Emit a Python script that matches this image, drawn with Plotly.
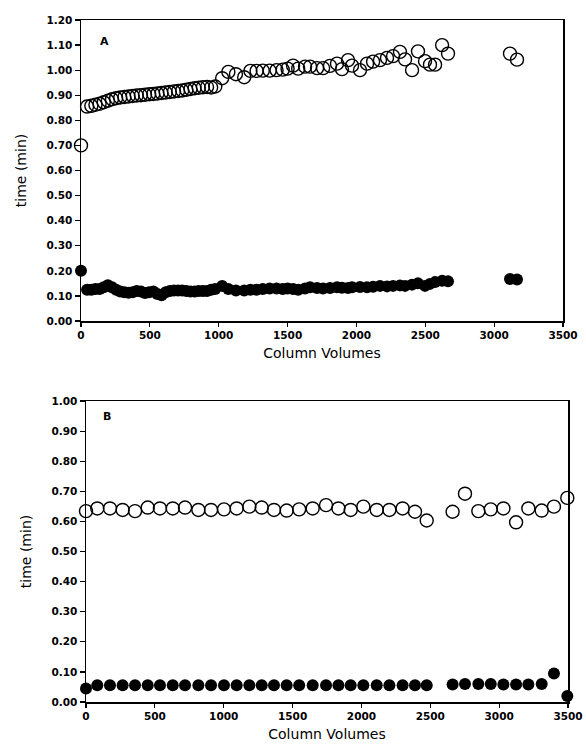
import plotly.graph_objects as go

# ---------------- Panel A data ----------------
cv_a = [0, 44, 75, 105, 135, 165, 195, 225, 255, 285, 315, 345, 375, 405, 435, 465, 495,
        525, 555, 585, 615, 645, 675, 705, 735, 765, 795, 825, 855, 885, 915, 945, 975,
        1025, 1070, 1125, 1185, 1230, 1275, 1320, 1370, 1420, 1465, 1500, 1540, 1577,
        1627, 1663, 1714, 1758, 1808, 1859, 1895, 1939, 1968, 2026, 2077, 2121, 2171,
        2222, 2266, 2316, 2353, 2404, 2447, 2498, 2534, 2571, 2622, 2665, 3115, 3166]
open_a = [0.70, 0.855, 0.858, 0.862, 0.866, 0.872, 0.878, 0.884, 0.888, 0.891, 0.893,
          0.895, 0.897, 0.899, 0.900, 0.902, 0.904, 0.905, 0.907, 0.909, 0.911, 0.913,
          0.915, 0.917, 0.919, 0.922, 0.925, 0.928, 0.930, 0.932, 0.933, 0.931, 0.935,
          0.968, 0.993, 0.984, 0.972, 0.997, 0.997, 0.998, 0.998, 1.000, 1.002, 1.006,
          1.018, 1.006, 1.014, 1.014, 1.008, 1.008, 1.017, 1.026, 1.004, 1.040, 1.018,
          1.000, 1.026, 1.034, 1.040, 1.049, 1.056, 1.073, 1.043, 1.000, 1.075, 1.036,
          1.022, 1.022, 1.100, 1.066, 1.066, 1.042]
filled_a = [0.20, 0.125, 0.125, 0.128, 0.128, 0.135, 0.143, 0.135, 0.125, 0.118, 0.115,
            0.113, 0.115, 0.120, 0.118, 0.112, 0.115, 0.118, 0.108, 0.103, 0.115, 0.120,
            0.122, 0.122, 0.122, 0.120, 0.118, 0.118, 0.120, 0.120, 0.120, 0.125, 0.128,
            0.140, 0.128, 0.122, 0.122, 0.125, 0.125, 0.128, 0.130, 0.130, 0.128, 0.130,
            0.128, 0.125, 0.130, 0.135, 0.132, 0.130, 0.132, 0.135, 0.133, 0.132, 0.135,
            0.136, 0.135, 0.137, 0.140, 0.138, 0.140, 0.142, 0.140, 0.145, 0.150, 0.140,
            0.148, 0.155, 0.160, 0.158, 0.167, 0.165]

# ---------------- Panel B data ----------------
cv_b = [0, 82, 174, 266, 356, 448, 537, 630, 719, 816, 908, 1002, 1094, 1186, 1276, 1365,
        1457, 1548, 1646, 1743, 1833, 1922, 2014, 2111, 2203, 2299, 2389, 2474,
        2662, 2752, 2849, 2939, 3031, 3123, 3212, 3309, 3398, 3495]
open_b = [0.634, 0.643, 0.643, 0.638, 0.634, 0.646, 0.643, 0.643, 0.646, 0.638, 0.638,
          0.640, 0.643, 0.649, 0.646, 0.638, 0.636, 0.640, 0.643, 0.654, 0.643, 0.638,
          0.649, 0.638, 0.638, 0.643, 0.632, 0.603, 0.632, 0.692, 0.634, 0.640, 0.643,
          0.597, 0.643, 0.636, 0.649, 0.678]
filled_b = [0.045, 0.056, 0.056, 0.056, 0.056, 0.056, 0.056, 0.056, 0.056, 0.056, 0.056,
            0.056, 0.056, 0.056, 0.056, 0.056, 0.056, 0.056, 0.056, 0.056, 0.056, 0.056,
            0.056, 0.056, 0.056, 0.056, 0.056, 0.056, 0.058, 0.060, 0.060, 0.060, 0.058,
            0.058, 0.058, 0.060, 0.095, 0.020]

x_ticks = [0, 500, 1000, 1500, 2000, 2500, 3000, 3500]
y_ticks_a = [0.0, 0.1, 0.2, 0.3, 0.4, 0.5, 0.6, 0.7, 0.8, 0.9, 1.0, 1.1, 1.2]
y_ticks_b = [0.0, 0.1, 0.2, 0.3, 0.4, 0.5, 0.6, 0.7, 0.8, 0.9, 1.0]

# the page margin is removed by the post script, so the figure sits at (0, 0)
OFF = 0
W, H = 586, 746
FONT = "DejaVu Sans"

def px_x(p):
    return (p - OFF) / W

def px_y(p):
    return 1 - (p - OFF) / H

dom_ax = [px_x(81), px_x(563)]
dom_ay = [px_y(321), px_y(20)]
dom_bx = [px_x(86), px_x(568)]
dom_by = [px_y(702), px_y(401)]

fig = go.Figure()

def add_pair(cv, op, fl, xa, ya):
    fig.add_trace(go.Scatter(x=cv, y=fl, mode="markers", xaxis=xa, yaxis=ya,
                             marker=dict(symbol="circle", size=12, color="black",
                                         line=dict(width=0)),
                             cliponaxis=False, showlegend=False, hoverinfo="skip"))
    fig.add_trace(go.Scatter(x=cv, y=op, mode="markers", xaxis=xa, yaxis=ya,
                             marker=dict(symbol="circle-open", size=13, color="black",
                                         line=dict(width=1.4)),
                             cliponaxis=False, showlegend=False, hoverinfo="skip"))

add_pair(cv_a, open_a, filled_a, "x", "y")
add_pair(cv_b, open_b, filled_b, "x2", "y2")

tickfont = dict(family=FONT, size=10.5, color="black", weight="bold")
titlefont = dict(family=FONT, size=14, color="black")

def xaxis(dom, anchor):
    return dict(domain=dom, anchor=anchor, range=[0, 3500], tickvals=x_ticks,
                ticktext=[str(v) for v in x_ticks], ticks="outside", ticklen=4,
                tickwidth=1.2, tickcolor="black", showline=True, linecolor="black",
                linewidth=1.5, mirror=True, showgrid=False, zeroline=False,
                tickfont=tickfont, automargin=False,
                title=dict(text="Column Volumes", font=titlefont, standoff=8))

def yaxis(dom, anchor, rng, vals):
    return dict(domain=dom, anchor=anchor, range=rng, tickvals=vals,
                ticktext=["%.2f" % v for v in vals], ticks="outside", ticklen=5,
                tickwidth=1.2, tickcolor="black", showline=True, linecolor="black",
                linewidth=1.5, mirror=True, showgrid=False, zeroline=False,
                tickfont=tickfont, automargin=False,
                title=dict(text="time (min)", font=titlefont, standoff=16))

def inner_x(over, anchor, dom):
    return dict(overlaying=over, anchor=anchor, domain=dom, range=[0, 3500],
                tickvals=x_ticks, ticks="inside", ticklen=5, tickwidth=1.2,
                tickcolor="black", showticklabels=False, showline=False,
                showgrid=False, zeroline=False)

def inner_y(over, anchor, dom, rng, vals):
    return dict(overlaying=over, anchor=anchor, domain=dom, range=rng,
                tickvals=vals, ticks="inside", ticklen=5, tickwidth=1.2,
                tickcolor="black", showticklabels=False, showline=False,
                showgrid=False, zeroline=False)

fig.update_layout(
    width=W, height=H,
    margin=dict(l=0, r=0, t=0, b=0),
    paper_bgcolor="white", plot_bgcolor="white",
    font=dict(family=FONT, color="black"),
    hovermode=False,
    xaxis=xaxis(dom_ax, "y"),
    yaxis=yaxis(dom_ay, "x", [0, 1.2], y_ticks_a),
    xaxis2=xaxis(dom_bx, "y2"),
    yaxis2=yaxis(dom_by, "x2", [0, 1.0], y_ticks_b),
    xaxis3=inner_x("x", "y", dom_ax),
    yaxis3=inner_y("y", "x", dom_ay, [0, 1.2], y_ticks_a),
    xaxis4=inner_x("x2", "y2", dom_bx),
    yaxis4=inner_y("y2", "x2", dom_by, [0, 1.0], y_ticks_b),
    annotations=[
        dict(text="<b>A</b>", xref="paper", yref="paper", x=px_x(98), y=px_y(33),
             showarrow=False, font=dict(family=FONT, size=11, color="black")),
        dict(text="<b>B</b>", xref="paper", yref="paper", x=px_x(101), y=px_y(416),
             showarrow=False, font=dict(family=FONT, size=11, color="black")),
    ],
)

fig.write_html(
    "out.html",
    config={"displayModeBar": False, "staticPlot": True},
    post_script="document.body.style.margin='0';document.body.style.overflow='hidden';",
)
